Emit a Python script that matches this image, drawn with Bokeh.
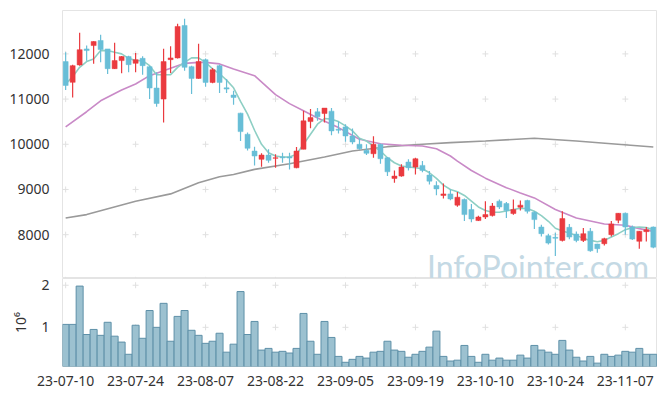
from bokeh.plotting import figure
from bokeh.layouts import column
from bokeh.models import FixedTicker, Label, Range1d
from bokeh.embed import file_html
from bokeh.resources import INLINE

dates = [
    "23-07-10", "23-07-11", "23-07-12", "23-07-13", "23-07-14", "23-07-17", "23-07-18", "23-07-19",
    "23-07-20", "23-07-21", "23-07-24", "23-07-25", "23-07-26", "23-07-27", "23-07-28", "23-07-31",
    "23-08-01", "23-08-02", "23-08-03", "23-08-04", "23-08-07", "23-08-08", "23-08-09", "23-08-10",
    "23-08-11", "23-08-14", "23-08-16", "23-08-17", "23-08-18", "23-08-21", "23-08-22", "23-08-23",
    "23-08-24", "23-08-25", "23-08-28", "23-08-29", "23-08-30", "23-08-31", "23-09-01", "23-09-04",
    "23-09-05", "23-09-06", "23-09-07", "23-09-08", "23-09-11", "23-09-12", "23-09-13", "23-09-14",
    "23-09-15", "23-09-18", "23-09-19", "23-09-20", "23-09-21", "23-09-22", "23-09-25", "23-09-26",
    "23-09-27", "23-10-04", "23-10-05", "23-10-06", "23-10-10", "23-10-11", "23-10-12", "23-10-13",
    "23-10-16", "23-10-17", "23-10-18", "23-10-19", "23-10-20", "23-10-23", "23-10-24", "23-10-25",
    "23-10-26", "23-10-27", "23-10-30", "23-10-31", "23-11-01", "23-11-02", "23-11-03", "23-11-06",
    "23-11-07", "23-11-08", "23-11-09", "23-11-10", "23-11-13",
]

opens = [11829, 11370, 11756, 12110, 12184, 12296, 12110, 11673, 11851, 11940,
         11791, 11902, 11718, 11245, 11000, 11873, 11911, 12629, 11718, 11458,
         11873, 11369, 11740, 11250, 11089, 10689, 10222, 9850, 9667, 9760,
         9689, 9720, 9720, 9480, 9889, 10502, 10718, 10680, 10733, 10333,
         10384, 10184, 10000, 9867, 9791, 10000, 9702, 9244, 9296, 9607,
         9496, 9533, 9318, 9089, 8867, 8902, 8653, 8778, 8556, 8311,
         8391, 8422, 8740, 8689, 8467, 8607, 8756, 8496, 8169, 7978,
         7940, 7873, 8162, 8013, 7873, 8076, 7791, 7800, 8000, 8318,
         8473, 8169, 7853, 8067, 8169]
highs = [12036, 11760, 12467, 12184, 12280, 12422, 12110, 12244, 11951, 11960,
         12022, 11947, 11740, 11591, 12111, 12169, 12667, 12778, 11740, 12222,
         11900, 11689, 11760, 11444, 11184, 10700, 10260, 9947, 9800, 9889,
         9778, 9813, 9813, 9940, 10740, 10778, 10800, 10800, 10800, 10502,
         10444, 10347, 10136, 10000, 10180, 10010, 9720, 9422, 9556, 9667,
         9702, 9630, 9407, 9184, 9133, 9000, 8944, 8800, 8680, 8420,
         8740, 8702, 8778, 8720, 8778, 8756, 8770, 8520, 8222, 8020,
         8040, 8520, 8236, 8070, 8147, 8147, 7800, 7930, 8300, 8480,
         8490, 8200, 8080, 8170, 8180]
lows = [11200, 11036, 11740, 11850, 11780, 11813, 11556, 11667, 11569, 11591,
        11591, 11540, 11000, 10829, 10480, 11578, 11900, 11629, 11111, 11450,
        11273, 11350, 11133, 11133, 10873, 10073, 9860, 9533, 9502, 9591,
        9480, 9591, 9444, 9470, 9889, 10356, 10518, 10480, 10200, 10236,
        10058, 10000, 9880, 9760, 9700, 9570, 9296, 9147, 9280, 9422,
        9333, 9380, 9111, 8873, 8800, 8760, 8620, 8300, 8273, 8300,
        8347, 8400, 8570, 8370, 8440, 8533, 8470, 8124, 7960, 7780,
        7530, 7850, 7900, 7830, 7840, 7620, 7600, 7760, 7960, 8250,
        8000, 7880, 7689, 7850, 7700]
closes = [11302, 11740, 12093, 12073, 12273, 12096, 11673, 11851, 11940, 11762,
          11873, 11740, 11245, 10902, 11829, 11911, 12607, 11702, 11458, 11829,
          11369, 11651, 11369, 11222, 11036, 10280, 9911, 9740, 9762, 9644,
          9702, 9700, 9696, 9851, 10518, 10591, 10607, 10800, 10296, 10311,
          10184, 10051, 9902, 9800, 10000, 9680, 9391, 9296, 9496, 9480,
          9680, 9422, 9184, 9013, 8902, 8791, 8829, 8444, 8347, 8391,
          8444, 8633, 8613, 8533, 8556, 8653, 8518, 8333, 8022, 7813,
          7920, 8356, 7947, 7873, 8022, 7644, 7689, 7911, 8236, 8473,
          8169, 7902, 8076, 8110, 7724]

# volume, in units of 10^6 shares
volume = [1.07, 1.07, 1.98, 0.83, 0.95, 0.81, 1.12, 0.79, 0.65, 0.36,
          1.05, 0.74, 1.40, 1.00, 1.57, 0.67, 1.26, 1.40, 0.93, 0.81,
          0.62, 0.67, 0.86, 0.41, 0.60, 1.85, 0.83, 1.14, 0.46, 0.50,
          0.41, 0.43, 0.39, 0.50, 1.33, 0.67, 0.36, 1.14, 0.76, 0.31,
          0.17, 0.24, 0.31, 0.27, 0.41, 0.43, 0.67, 0.46, 0.43, 0.29,
          0.36, 0.43, 0.53, 0.91, 0.31, 0.20, 0.22, 0.57, 0.31, 0.17,
          0.36, 0.22, 0.27, 0.22, 0.22, 0.34, 0.27, 0.57, 0.46, 0.41,
          0.36, 0.69, 0.46, 0.29, 0.20, 0.31, 0.15, 0.36, 0.31, 0.34,
          0.43, 0.41, 0.50, 0.36, 0.36]

# 5-day moving average (read per bar)
ma5 = [11333, 11496, 11702, 11829, 11889, 12073, 12073, 12036, 12000, 11902,
       11851, 11851, 11740, 11540, 11540, 11540, 11702, 11813, 11911, 11911,
       11813, 11667, 11560, 11420, 11250, 10950, 10667, 10310, 10000, 9813,
       9740, 9718, 9718, 9778, 10000, 10222, 10444, 10569, 10556, 10502,
       10407, 10296, 10133, 10073, 9962, 9851, 9702, 9591, 9518, 9496,
       9480, 9458, 9370, 9244, 9096, 9000, 8950, 8867, 8740, 8613,
       8533, 8496, 8496, 8524, 8556, 8585, 8578, 8518, 8422, 8296,
       8142, 8080, 8036, 7984, 7918, 7873, 7844, 7873, 7947, 8022,
       8111, 8156, 8169, 8156, 8111]

# 20-day moving average (read at sample bars)
ma20_x = [0, 3, 5, 8, 10, 12, 15, 17, 19, 20, 22, 24, 27, 30, 32, 34, 36, 39, 42,
          45, 48, 51, 53, 55, 56, 58, 60, 63, 65, 67, 70, 73, 76, 77, 80, 82, 84]
ma20_y = [10384, 10720, 10962, 11200, 11333, 11518, 11680, 11791, 11813, 11813,
          11778, 11667, 11518, 11100, 10900, 10740, 10580, 10369, 10111,
          10013, 9978, 9962, 9900, 9740, 9629, 9420, 9250, 9040, 8924,
          8813, 8556, 8369, 8270, 8236, 8207, 8133, 8073]

# 120-day moving average (read at sample bars)
ma120_x = [0, 3, 10, 15, 19, 22, 24, 27, 32, 37, 41, 46, 51, 55, 60, 67, 73, 78, 84]
ma120_y = [8369, 8444, 8740, 8902, 9147, 9280, 9333, 9444, 9569, 9718,
           9851, 9947, 10000, 10036, 10073, 10133, 10073, 10013, 9940]

price_ticks = [7000, 8000, 9000, 10000, 11000, 12000]
date_ticks = [0, 10, 20, 30, 40, 50, 60, 70, 80]
vol_ticks = [1, 2]

UP = "#ea3a3f"
DOWN = "#68bed7"
FONT = "Noto Sans"

n = len(dates)
xs = list(range(n))
up_x = [i for i in xs if closes[i] >= opens[i]]
dn_x = [i for i in xs if closes[i] < opens[i]]

xr = Range1d(-0.45, 84.6)

p = figure(width=657, height=278, x_range=xr, y_range=Range1d(7030, 12960),
           output_backend="svg", toolbar_location=None,
           min_border_left=62, min_border_right=0, min_border_top=10, min_border_bottom=0)
p.xaxis.visible = False
p.grid.visible = False
p.outline_line_color = "#e4e4e4"
p.yaxis.ticker = FixedTicker(ticks=price_ticks[1:])
p.yaxis.major_tick_line_color = None
p.yaxis.minor_tick_line_color = None
p.yaxis.axis_line_color = None
p.yaxis.major_label_text_font = FONT
p.yaxis.major_label_text_font_size = "14px"
p.yaxis.major_label_text_color = "#333333"
p.yaxis.major_label_standoff = 7

# grid crosses
cx = [d for d in date_ticks for _ in price_ticks]
cy = [t for _ in date_ticks for t in price_ticks]
p.scatter(cx, cy, marker="cross", size=6, line_color="#e0e0e0", line_width=1)

p.add_layout(Label(x=83.4, y=7300, text="InfoPointer.com", text_align="right",
                   text_baseline="alphabetic", text_font="Lato", text_font_size="32px",
                   text_color="#c4d9e4", level="underlay"))

p.line(ma120_x, ma120_y, line_color="#9a9a9a", line_width=1.6)
p.line(ma20_x, ma20_y, line_color="#c98ac7", line_width=1.6)
p.line(xs, ma5, line_color="#8ecfc4", line_width=1.6)

p.segment([i for i in up_x], [highs[i] for i in up_x], [i for i in up_x], [lows[i] for i in up_x],
          line_color=UP, line_width=1.2)
p.segment([i for i in dn_x], [highs[i] for i in dn_x], [i for i in dn_x], [lows[i] for i in dn_x],
          line_color=DOWN, line_width=1.2)
p.vbar(x=up_x, top=[closes[i] for i in up_x], bottom=[opens[i] for i in up_x], width=0.72,
       fill_color=UP, line_color=UP, line_width=0.5)
p.vbar(x=dn_x, top=[opens[i] for i in dn_x], bottom=[closes[i] for i in dn_x], width=0.72,
       fill_color=DOWN, line_color=DOWN, line_width=0.5)

v = figure(width=657, height=110, x_range=xr, y_range=Range1d(0.07, 2.16),
           output_backend="svg", toolbar_location=None,
           min_border_left=62, min_border_right=0, min_border_top=0, min_border_bottom=21)
v.grid.visible = False
v.outline_line_color = "#e4e4e4"
vx = [d for d in date_ticks for _ in vol_ticks]
vy = [t for _ in date_ticks for t in vol_ticks]
v.scatter(vx, vy, marker="cross", size=6, line_color="#e0e0e0", line_width=1)
v.vbar(x=xs, top=volume, bottom=0, width=1.0, fill_color="#9cc1d0", line_color="#5e90a8",
       line_width=1)
v.yaxis.ticker = FixedTicker(ticks=vol_ticks)
v.yaxis.major_label_overrides = {1: "1", 2: "2"}
v.yaxis.axis_label = "10\u2076"
v.yaxis.axis_label_text_font = FONT
v.yaxis.axis_label_text_font_style = "normal"
v.yaxis.axis_label_text_font_size = "14px"
v.yaxis.axis_label_text_color = "#333333"
v.yaxis.axis_label_standoff = 8
v.xaxis.ticker = FixedTicker(ticks=date_ticks)
v.xaxis.major_label_overrides = {d: dates[d] for d in date_ticks}
for ax in (v.xaxis, v.yaxis):
    ax.major_tick_line_color = None
    ax.minor_tick_line_color = None
    ax.axis_line_color = None
    ax.major_label_text_font = FONT
    ax.major_label_text_font_size = "14px"
    ax.major_label_text_color = "#333333"
v.yaxis.major_label_standoff = 7
v.xaxis.major_label_standoff = 3

layout = column(p, v, spacing=0)
open("out.html", "w").write(file_html(layout, INLINE))
